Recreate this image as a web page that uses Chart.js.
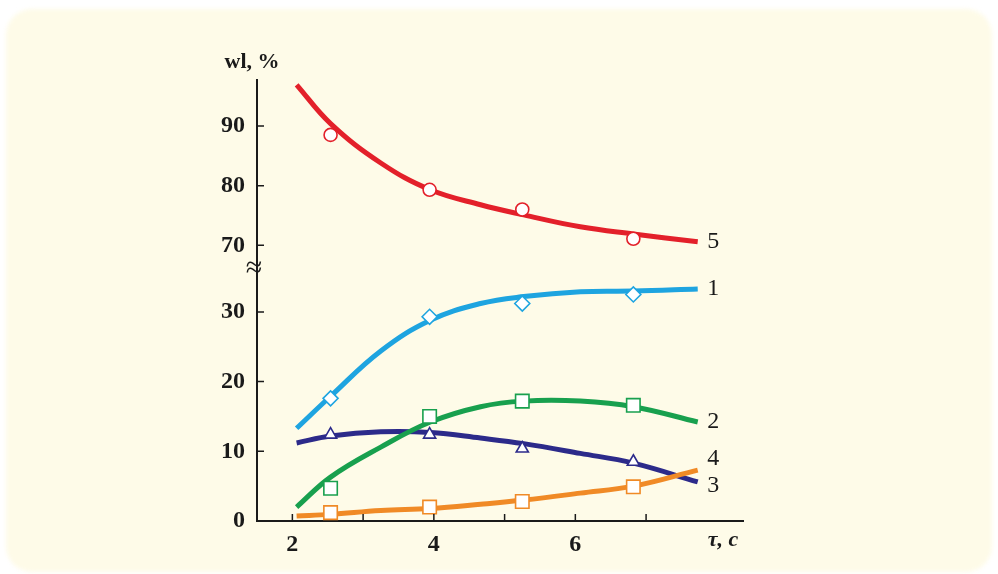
<!DOCTYPE html>
<html>
<head>
<meta charset="utf-8">
<script src="https://cdn.jsdelivr.net/npm/chart.js@4/dist/chart.umd.min.js"></script>
<style>
  html, body { margin: 0; padding: 0; background: #ffffff; }
  #wrap { position: relative; width: 998px; height: 574px; overflow: hidden; }
  #card {
    position: absolute; left: 6px; top: 9px; right: 6px; bottom: 2px;
    background: #fefbe8; border-radius: 26px; filter: blur(2px);
  }
  #chart { position: absolute; left: 0; top: 0; }
</style>
</head>
<body>
<div id="wrap">
  <div id="card"></div>
  <canvas id="chart" width="998" height="574"></canvas>
</div>
<script>
// measured points (markers)
const markerTau = [2.54, 3.94, 5.25, 6.82];
// fitted curves are sampled at these τ
const curveTau = [2.06, 2.54, 3.25, 3.95, 4.66, 5.27, 6.07, 6.82, 7.73];

const curve1 = [13.3, 17.9, 24.4, 28.8, 31.2, 32.2, 32.9, 33.0, 33.3];
const points1 = [17.6, 29.3, 31.2, 32.5];
const curve2 = [2.0, 6.3, 10.6, 14.2, 16.4, 17.2, 17.2, 16.4, 14.2];
const points2 = [4.7, 15.0, 17.2, 16.6];
const curve3 = [0.7, 0.95, 1.5, 1.8, 2.4, 3.0, 4.0, 5.0, 7.3];
const points3 = [1.2, 2.0, 2.8, 4.9];
const curve4 = [11.2, 12.2, 12.8, 12.7, 11.9, 11.1, 9.7, 8.3, 5.6];
const points4 = [12.4, 12.4, 10.4, 8.5];
const curve5 = [96.9, 90.4, 83.8, 79.3, 76.8, 75.1, 73.1, 71.9, 70.6];
const points5 = [88.5, 79.3, 76.0, 71.1];

// curve numbers at the right end: [text, τ, wl, axis]
const curveNames = [
  ["5", 7.95, 70.6, "yTop"],
  ["1", 7.95, 33.3, "yBot"],
  ["2", 7.95, 14.3, "yBot"],
  ["4", 7.95, 8.9, "yBot"],
  ["3", 7.95, 5.0, "yBot"]
];

const xTicks = [2, 3, 4, 5, 6, 7];
const yBotTicks = [0, 10, 20, 30];
const yTopTicks = [70, 80, 90];

const INK = "#1a1a1a";
const SERIF = "'Liberation Serif', 'Times New Roman', serif";

const pairs = (xs, ys) => xs.map((x, i) => ({ x: x, y: ys[i] }));

function curve(data, color, axis) {
  return {
    type: "line",
    data: pairs(curveTau, data),
    borderColor: color,
    borderWidth: 5,
    pointRadius: 0,
    tension: 0.4,
    yAxisID: axis,
    order: 2
  };
}

function markers(data, color, style, radius, axis) {
  return {
    type: "scatter",
    data: pairs(markerTau, data),
    showLine: false,
    pointStyle: style,
    pointRadius: radius,
    pointBackgroundColor: "#ffffff",
    pointBorderColor: color,
    pointBorderWidth: 1.6,
    yAxisID: axis,
    order: 1
  };
}

const RED = "#e3202a", BLUE = "#1ea4e0", GREEN = "#18a04e", NAVY = "#2c2a8a", ORANGE = "#f08a26";

const axisExtras = {
  id: "axisExtras",
  afterDraw(chart) {
    const { ctx } = chart;
    const { x, yTop, yBot } = chart.scales;
    ctx.save();
    ctx.strokeStyle = INK;
    ctx.lineWidth = 1.5;
    ctx.beginPath();
    // inward tick marks
    x.ticks.forEach(t => {
      const px = x.getPixelForValue(t.value);
      ctx.moveTo(px, x.top);
      ctx.lineTo(px, x.top - 7);
    });
    [yTop, yBot].forEach(s => {
      s.ticks.forEach(t => {
        if (t.value === 0) return;
        const py = s.getPixelForValue(t.value);
        ctx.moveTo(s.right, py);
        ctx.lineTo(s.right + 7, py);
      });
    });
    ctx.stroke();

    // axis break sign
    ctx.fillStyle = INK;
    ctx.font = "30px " + SERIF;
    ctx.textAlign = "center";
    ctx.textBaseline = "middle";
    ctx.fillText("≈", yBot.right - 3, yBot.top + 1);

    // axis titles
    ctx.font = "bold 22px " + SERIF;
    ctx.fillText("wl, %", yTop.right - 5, yTop.top - 18);
    ctx.font = "italic bold 22px " + SERIF;
    ctx.fillText("τ, c", x.right - 20, x.top + 19);

    // curve numbers
    ctx.font = "24px " + SERIF;
    curveNames.forEach(([txt, tau, v, axis]) => {
      ctx.fillText(txt, x.getPixelForValue(tau), chart.scales[axis].getPixelForValue(v));
    });
    ctx.restore();
  }
};

const tickFont = { family: SERIF, size: 24, weight: "bold" };

function draw() {
  new Chart(document.getElementById("chart"), {
    data: {
      datasets: [
        markers(points5, RED, "circle", 6.5, "yTop"),
        markers(points1, BLUE, "rectRot", 7.5, "yBot"),
        markers(points2, GREEN, "rect", 9.5, "yBot"),
        markers(points3, ORANGE, "rect", 9.5, "yBot"),
        markers(points4, NAVY, "triangle", 7, "yBot"),
        curve(curve5, RED, "yTop"),
        curve(curve1, BLUE, "yBot"),
        curve(curve2, GREEN, "yBot"),
        curve(curve3, ORANGE, "yBot"),
        curve(curve4, NAVY, "yBot")
      ]
    },
    options: {
      responsive: false,
      animation: false,
      layout: { padding: { top: 80, right: 255, left: 0, bottom: 0 } },
      plugins: {
        legend: { display: false },
        tooltip: { enabled: false }
      },
      scales: {
        x: {
          type: "linear",
          min: 1.5,
          max: 8.37,
          grid: { display: false, drawTicks: false },
          border: { color: INK, width: 2 },
          afterBuildTicks: s => { s.ticks = xTicks.map(v => ({ value: v })); },
          afterFit: s => { s.height = 53; },
          ticks: {
            padding: 9,
            color: INK,
            font: tickFont,
            autoSkip: false,
            maxRotation: 0,
            callback: v => (v % 2 === 0 ? String(v) : "")
          }
        },
        yBot: {
          type: "linear",
          position: "left",
          stack: "wl",
          stackWeight: 253,
          min: 0,
          max: 36.3,
          grid: { display: false, drawTicks: false },
          border: { color: INK, width: 2 },
          afterBuildTicks: s => { s.ticks = yBotTicks.map(v => ({ value: v })); },
          afterFit: s => { s.width = 257; },
          ticks: { padding: 12, color: INK, font: tickFont }
        },
        yTop: {
          type: "linear",
          position: "left",
          stack: "wl",
          stackWeight: 188,
          min: 66.2,
          max: 97.7,
          grid: { display: false, drawTicks: false },
          border: { color: INK, width: 2 },
          afterBuildTicks: s => { s.ticks = yTopTicks.map(v => ({ value: v })); },
          afterFit: s => { s.width = 257; },
          ticks: { padding: 12, color: INK, font: tickFont }
        }
      }
    },
    plugins: [axisExtras]
  });
}

// make sure the serif faces are ready before the canvas text is drawn
Promise.all([
  document.fonts.load("bold 24px 'Liberation Serif'"),
  document.fonts.load("24px 'Liberation Serif'"),
  document.fonts.load("italic bold 22px 'Liberation Serif'")
]).then(draw, draw);
</script>
</body>
</html>
